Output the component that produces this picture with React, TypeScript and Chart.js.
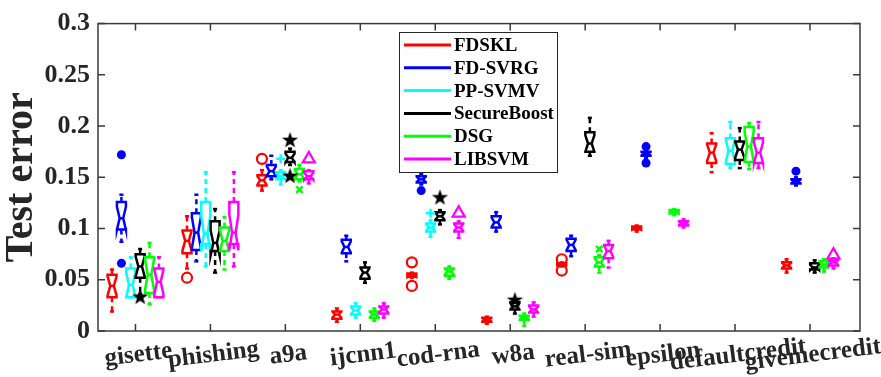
import React, { useEffect, useRef } from 'react';
import { Chart, registerables } from 'chart.js';

Chart.register(...registerables);

const categories = ['gisette', 'phishing', 'a9a', 'ijcnn1', 'cod-rna', 'w8a', 'real-sim', 'epsilon', 'defaultcredit', 'givemecredit'];
const methods = ['FDSKL', 'FD-SVRG', 'PP-SVMV', 'SecureBoost', 'DSG', 'LIBSVM'];
const colors = ['#ff0000', '#0000ff', '#00ffff', '#000000', '#00ff00', '#ff00ff'];
const yTickValues = [0, 0.05, 0.1, 0.15, 0.2, 0.25, 0.3];

// [lower whisker, q1, median, q3, upper whisker] per category (null = no box)
const fdsklStats = [
  [0.019, 0.033, 0.044, 0.055, 0.060],
  [0.061, 0.076, 0.088, 0.098, 0.112],
  [0.137, 0.142, 0.147, 0.152, 0.157],
  [0.009, 0.012, 0.016, 0.019, 0.022],
  [0.052, 0.053, 0.054, 0.056, 0.057],
  [0.007, 0.009, 0.011, 0.013, 0.014],
  [0.063, 0.064, 0.065, 0.066, 0.067],
  [0.097, 0.099, 0.100, 0.102, 0.103],
  [0.155, 0.164, 0.174, 0.183, 0.193],
  [0.057, 0.061, 0.064, 0.067, 0.070],
];
const fdSvrgStats = [
  [0.087, 0.099, 0.110, 0.126, 0.133],
  [0.068, 0.079, 0.096, 0.115, 0.133],
  [0.148, 0.151, 0.156, 0.162, 0.171],
  [0.068, 0.076, 0.082, 0.089, 0.093],
  [0.143, 0.145, 0.148, 0.151, 0.153],
  [0.097, 0.101, 0.106, 0.112, 0.116],
  [0.073, 0.078, 0.084, 0.090, 0.093],
  [0.169, 0.171, 0.173, 0.175, 0.176],
  null,
  [0.142, 0.144, 0.146, 0.148, 0.150],
];
const ppSvmvStats = [
  [0.033, 0.033, 0.045, 0.061, 0.072],
  [0.063, 0.085, 0.095, 0.126, 0.155],
  [0.143, 0.148, 0.151, 0.155, 0.157],
  [0.013, 0.016, 0.020, 0.024, 0.027],
  [0.092, 0.097, 0.101, 0.105, 0.108],
  null,
  null,
  null,
  [0.159, 0.163, 0.176, 0.188, 0.204],
  null,
];
const secureBoostStats = [
  [0.036, 0.052, 0.063, 0.075, 0.080],
  [0.057, 0.078, 0.086, 0.107, 0.119],
  [0.162, 0.165, 0.169, 0.175, 0.178],
  [0.047, 0.051, 0.057, 0.062, 0.067],
  [0.104, 0.108, 0.112, 0.116, 0.118],
  [0.017, 0.021, 0.024, 0.028, 0.030],
  [0.171, 0.175, 0.183, 0.194, 0.208],
  null,
  [0.159, 0.167, 0.177, 0.185, 0.198],
  [0.057, 0.060, 0.062, 0.066, 0.069],
];
const dsgStats = [
  [0.026, 0.037, 0.055, 0.072, 0.086],
  [0.060, 0.078, 0.088, 0.101, 0.111],
  [0.146, 0.148, 0.153, 0.158, 0.162],
  [0.010, 0.013, 0.016, 0.019, 0.022],
  [0.051, 0.054, 0.058, 0.061, 0.063],
  [0.005, 0.011, 0.013, 0.015, 0.017],
  [0.057, 0.063, 0.067, 0.072, 0.074],
  [0.113, 0.115, 0.116, 0.118, 0.119],
  [0.158, 0.165, 0.180, 0.199, 0.203],
  [0.058, 0.062, 0.065, 0.068, 0.070],
];
const libsvmStats = [
  [0.033, 0.033, 0.048, 0.061, 0.072],
  [0.063, 0.085, 0.096, 0.126, 0.155],
  [0.144, 0.148, 0.151, 0.156, 0.157],
  [0.013, 0.017, 0.021, 0.024, 0.027],
  [0.091, 0.097, 0.101, 0.105, 0.107],
  [0.014, 0.018, 0.021, 0.025, 0.028],
  [0.062, 0.071, 0.078, 0.084, 0.088],
  [0.101, 0.103, 0.105, 0.107, 0.109],
  [0.159, 0.164, 0.174, 0.188, 0.204],
  [0.061, 0.064, 0.067, 0.069, 0.071],
];

// outliers: [category index, value]
const fdsklOutliers = [[1, 0.052], [2, 0.168], [4, 0.067], [4, 0.044], [6, 0.070], [6, 0.059]];
const fdSvrgOutliers = [[0, 0.172], [0, 0.066], [4, 0.137], [7, 0.180], [7, 0.164], [9, 0.156]];
const ppSvmvOutliers = [[2, 0.168], [4, 0.115]];
const secureBoostOutliers = [[0, 0.033], [2, 0.186], [2, 0.151], [4, 0.130], [5, 0.030]];
const dsgOutliers = [[2, 0.138], [6, 0.080]];
const libsvmOutliers = [[2, 0.168], [4, 0.115], [9, 0.074]];

const allStats = [fdsklStats, fdSvrgStats, ppSvmvStats, secureBoostStats, dsgStats, libsvmStats];
const allOutliers = [fdsklOutliers, fdSvrgOutliers, ppSvmvOutliers, secureBoostOutliers, dsgOutliers, libsvmOutliers];
const offsets = [-0.3125, -0.1875, -0.0625, 0.0625, 0.1875, 0.3125];
const BOX_W = 0.12;
const FONT = "'Liberation Serif', 'Times New Roman', serif";

function makeStar(r: number) {
  const c = document.createElement('canvas');
  const s = Math.ceil(r * 2 + 2);
  c.width = s;
  c.height = s;
  const ctx = c.getContext('2d')!;
  ctx.fillStyle = '#000';
  ctx.beginPath();
  for (let k = 0; k < 10; k++) {
    const a = -Math.PI / 2 + (k * Math.PI) / 5;
    const rr = k % 2 === 0 ? r : r * 0.4;
    ctx.lineTo(s / 2 + rr * Math.cos(a), s / 2 + rr * Math.sin(a));
  }
  ctx.closePath();
  ctx.fill();
  return c;
}

const boxPlugin = {
  id: 'boxPlugin',
  beforeDatasetsDraw(chart: any) {
    const { ctx, chartArea: ca } = chart;
    const xs = chart.scales.x;
    const ys = chart.scales.y;
    ctx.save();
    // frame and inward ticks
    ctx.strokeStyle = '#3a3a3a';
    ctx.lineWidth = 1.5;
    ctx.strokeRect(ca.left, ca.top, ca.right - ca.left, ca.bottom - ca.top);
    ctx.beginPath();
    const tl = 7;
    categories.forEach((_, i) => {
      const px = xs.getPixelForValue(i);
      ctx.moveTo(px, ca.bottom);
      ctx.lineTo(px, ca.bottom - tl);
      ctx.moveTo(px, ca.top);
      ctx.lineTo(px, ca.top + tl);
    });
    yTickValues.forEach((v) => {
      const py = ys.getPixelForValue(v);
      ctx.moveTo(ca.left, py);
      ctx.lineTo(ca.left + tl, py);
      ctx.moveTo(ca.right, py);
      ctx.lineTo(ca.right - tl, py);
    });
    ctx.stroke();

    // notched boxes
    const halfW = (xs.getPixelForValue(BOX_W) - xs.getPixelForValue(0)) / 2;
    const Y = (v: number) => ys.getPixelForValue(v);
    const line = (x1: number, y1: number, x2: number, y2: number) => {
      ctx.beginPath();
      ctx.moveTo(x1, y1);
      ctx.lineTo(x2, y2);
      ctx.stroke();
    };
    categories.forEach((_, ci) => {
      allStats.forEach((stats, mi) => {
        const st = stats[ci];
        if (!st) return;
        const [lo, q1, med, q3, hi] = st;
        const px = xs.getPixelForValue(ci + offsets[mi]);
        const iqr = q3 - q1;
        const nlo = med - 0.42 * iqr;
        const nhi = med + 0.42 * iqr;
        const xl = px - halfW;
        const xr = px + halfW;
        const ind = halfW * 0.6;
        ctx.strokeStyle = colors[mi];
        ctx.lineWidth = 2.5;
        ctx.lineJoin = 'miter';
        ctx.setLineDash([5, 4]);
        if (hi > q3) line(px, Y(q3), px, Y(hi));
        if (lo < q1) line(px, Y(q1), px, Y(lo));
        ctx.setLineDash([]);
        line(px - halfW * 0.45, Y(hi), px + halfW * 0.45, Y(hi));
        line(px - halfW * 0.45, Y(lo), px + halfW * 0.45, Y(lo));
        ctx.beginPath();
        ctx.moveTo(xl, Y(q1));
        ctx.lineTo(xl, Y(nlo));
        ctx.lineTo(xl + ind, Y(med));
        ctx.lineTo(xl, Y(nhi));
        ctx.lineTo(xl, Y(q3));
        ctx.lineTo(xr, Y(q3));
        ctx.lineTo(xr, Y(nhi));
        ctx.lineTo(xr - ind, Y(med));
        ctx.lineTo(xr, Y(nlo));
        ctx.lineTo(xr, Y(q1));
        ctx.closePath();
        ctx.stroke();
        line(xl + ind, Y(med), xr - ind, Y(med));
      });
    });
    ctx.restore();
  },
  afterDraw(chart: any) {
    const { ctx, chartArea: ca } = chart;
    const xs = chart.scales.x;
    ctx.save();
    // x category labels (slightly rotated)
    ctx.fillStyle = '#262626';
    ctx.font = `bold 25px ${FONT}`;
    ctx.textAlign = 'center';
    ctx.textBaseline = 'middle';
    categories.forEach((c, i) => {
      const px = xs.getPixelForValue(i) + 3;
      ctx.save();
      ctx.translate(px, ca.bottom + 24);
      ctx.rotate((-7 * Math.PI) / 180);
      ctx.fillText(c, 0, 0);
      ctx.restore();
    });
    // legend
    const lx = 399;
    const ly = 32;
    const lw = 158;
    const lh = 140;
    ctx.fillStyle = '#ffffff';
    ctx.fillRect(lx, ly, lw, lh);
    ctx.strokeStyle = '#262626';
    ctx.lineWidth = 1;
    ctx.strokeRect(lx + 0.5, ly + 0.5, lw, lh);
    ctx.font = `bold 19px ${FONT}`;
    ctx.textAlign = 'left';
    ctx.textBaseline = 'middle';
    methods.forEach((m, i) => {
      const ry = ly + 13 + i * 22.8;
      ctx.strokeStyle = colors[i];
      ctx.lineWidth = 3;
      ctx.beginPath();
      ctx.moveTo(lx + 5, ry);
      ctx.lineTo(lx + 52, ry);
      ctx.stroke();
      ctx.fillStyle = '#000';
      ctx.fillText(m, lx + 55, ry + 1);
    });
    ctx.restore();
  },
};

export default function App() {
  const ref = useRef<HTMLCanvasElement>(null);
  useEffect(() => {
    document.body.style.margin = '0';
    const star = makeStar(8.5);
    const styles: any[] = [
      { pointStyle: 'circle', radius: 5, borderWidth: 2.2, backgroundColor: 'rgba(0,0,0,0)' },
      { pointStyle: 'circle', radius: 4.5, borderWidth: 0, backgroundColor: colors[1] },
      { pointStyle: 'cross', radius: 4.5, borderWidth: 2.5, backgroundColor: colors[2] },
      { pointStyle: star, radius: 8.5, borderWidth: 0, backgroundColor: '#000' },
      { pointStyle: 'crossRot', radius: 4.5, borderWidth: 2.5, backgroundColor: colors[4] },
      { pointStyle: 'triangle', radius: 7, borderWidth: 2.2, backgroundColor: 'rgba(0,0,0,0)' },
    ];
    const chart = new Chart(ref.current!, {
      type: 'scatter',
      data: {
        datasets: methods.map((m, i) => ({
          label: m,
          data: allOutliers[i].map(([c, v]) => ({ x: c + offsets[i], y: v })),
          borderColor: colors[i],
          pointStyle: styles[i].pointStyle,
          pointRadius: styles[i].radius,
          pointBorderWidth: styles[i].borderWidth,
          pointBackgroundColor: styles[i].backgroundColor,
          pointBorderColor: colors[i],
        })),
      },
      options: {
        animation: false,
        responsive: false,
        layout: { padding: { top: 16, right: 21, left: 0, bottom: 0 } },
        plugins: { legend: { display: false }, tooltip: { enabled: false } },
        scales: {
          x: {
            type: 'linear',
            min: -0.5,
            max: 9.667,
            ticks: { display: false },
            grid: { display: false, drawTicks: false },
            border: { display: false },
            afterFit: (s: any) => {
              s.height = 46;
            },
          },
          y: {
            min: 0,
            max: 0.3,
            ticks: {
              stepSize: 0.05,
              padding: 8,
              color: '#262626',
              font: { family: FONT, size: 26, weight: 'bold' },
              callback: (v: any) => String(+Number(v).toFixed(2)),
            },
            grid: { display: false, drawTicks: false },
            border: { display: false },
            title: {
              display: true,
              text: 'Test error',
              color: '#262626',
              font: { family: FONT, size: 40, weight: 'bold', lineHeight: 1.1 },
              padding: { top: 0, bottom: 0 },
            },
            afterFit: (s: any) => {
              s.width = 98;
            },
          },
        },
      } as any,
      plugins: [boxPlugin],
    });
    return () => chart.destroy();
  }, []);
  return (
    <div style={{ width: 881, height: 377 }}>
      <canvas ref={ref} width={881} height={377} style={{ display: 'block' }} />
    </div>
  );
}
